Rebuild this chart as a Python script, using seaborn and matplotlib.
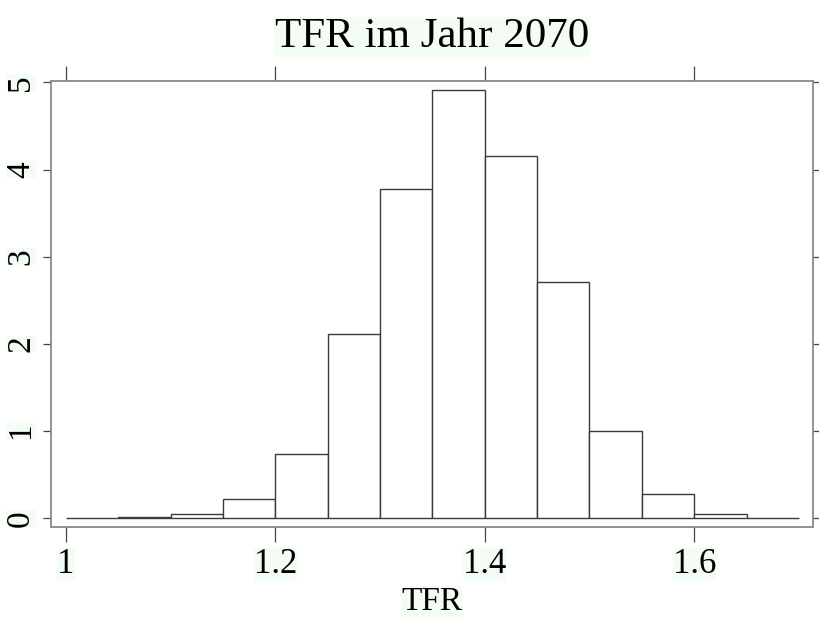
import matplotlib
matplotlib.use("Agg")
import matplotlib.pyplot as plt
import seaborn as sns
import numpy as np

# Data (density histogram, bin width 0.05)
bin_edges = [1.00, 1.05, 1.10, 1.15, 1.20, 1.25, 1.30, 1.35, 1.40, 1.45, 1.50, 1.55, 1.60, 1.65, 1.70]
bin_centers = [1.025, 1.075, 1.125, 1.175, 1.225, 1.275, 1.325, 1.375, 1.425, 1.475, 1.525, 1.575, 1.625, 1.675]
densities = [0.0, 0.011, 0.046, 0.218, 0.734, 2.11, 3.78, 4.91, 4.15, 2.71, 1.00, 0.275, 0.053, 0.0]
x_ticks = [1.0, 1.2, 1.4, 1.6]
x_tick_labels = ["1", "1.2", "1.4", "1.6"]
y_ticks = [0, 1, 2, 3, 4, 5]
y_tick_labels = ["0", "1", "2", "3", "4", "5"]
title_text = "TFR im Jahr 2070"
x_label = "TFR"

sns.set_style("white")
plt.rcParams["font.family"] = ["Liberation Serif", "DejaVu Serif"]
plt.rcParams["text.color"] = "black"

fig = plt.figure(figsize=(8.19, 6.19), dpi=100)
ax = fig.add_axes([0.0623, 0.1486, 0.9304, 0.7212])

sns.histplot(x=bin_centers, weights=densities, bins=bin_edges, stat="count",
             color="white", edgecolor="#3a3a3a", linewidth=1.0, alpha=1.0, ax=ax)

ax.set_xlim(0.9857, 1.7135)
ax.set_ylim(-0.10, 5.02)

ax.set_xticks(x_ticks)
ax.set_xticklabels(x_tick_labels)
ax.set_yticks(y_ticks)
ax.set_yticklabels(y_tick_labels, rotation=90, va="center")

ax.tick_params(axis="x", which="both", direction="out", length=10.8, width=0.9,
               color="#444444", top=True, bottom=True, labelsize=25, pad=4, labelcolor="black")
ax.tick_params(axis="y", which="both", direction="out", length=5.8, width=0.9,
               color="#444444", left=True, right=True, labelsize=24, pad=5, labelcolor="black")

for side, sp in ax.spines.items():
    sp.set_visible(True)
    sp.set_color("#8a8a8a")
    sp.set_linewidth(1.3)

bg = dict(facecolor="#f3fdf3", edgecolor="none", pad=0.5)
ax.set_title(title_text, fontsize=31, pad=24, bbox=bg, color="black")
ax.set_xlabel(x_label, fontsize=24, labelpad=4, bbox=dict(facecolor="#f3fdf3", edgecolor="none", pad=0.1), color="black")
ax.set_ylabel("")

for lab in ax.get_xticklabels() + ax.get_yticklabels():
    lab.set_bbox(dict(facecolor="#f3fdf3", edgecolor="none", pad=0.1))

fig.savefig("out.png", dpi=100, facecolor="white")
